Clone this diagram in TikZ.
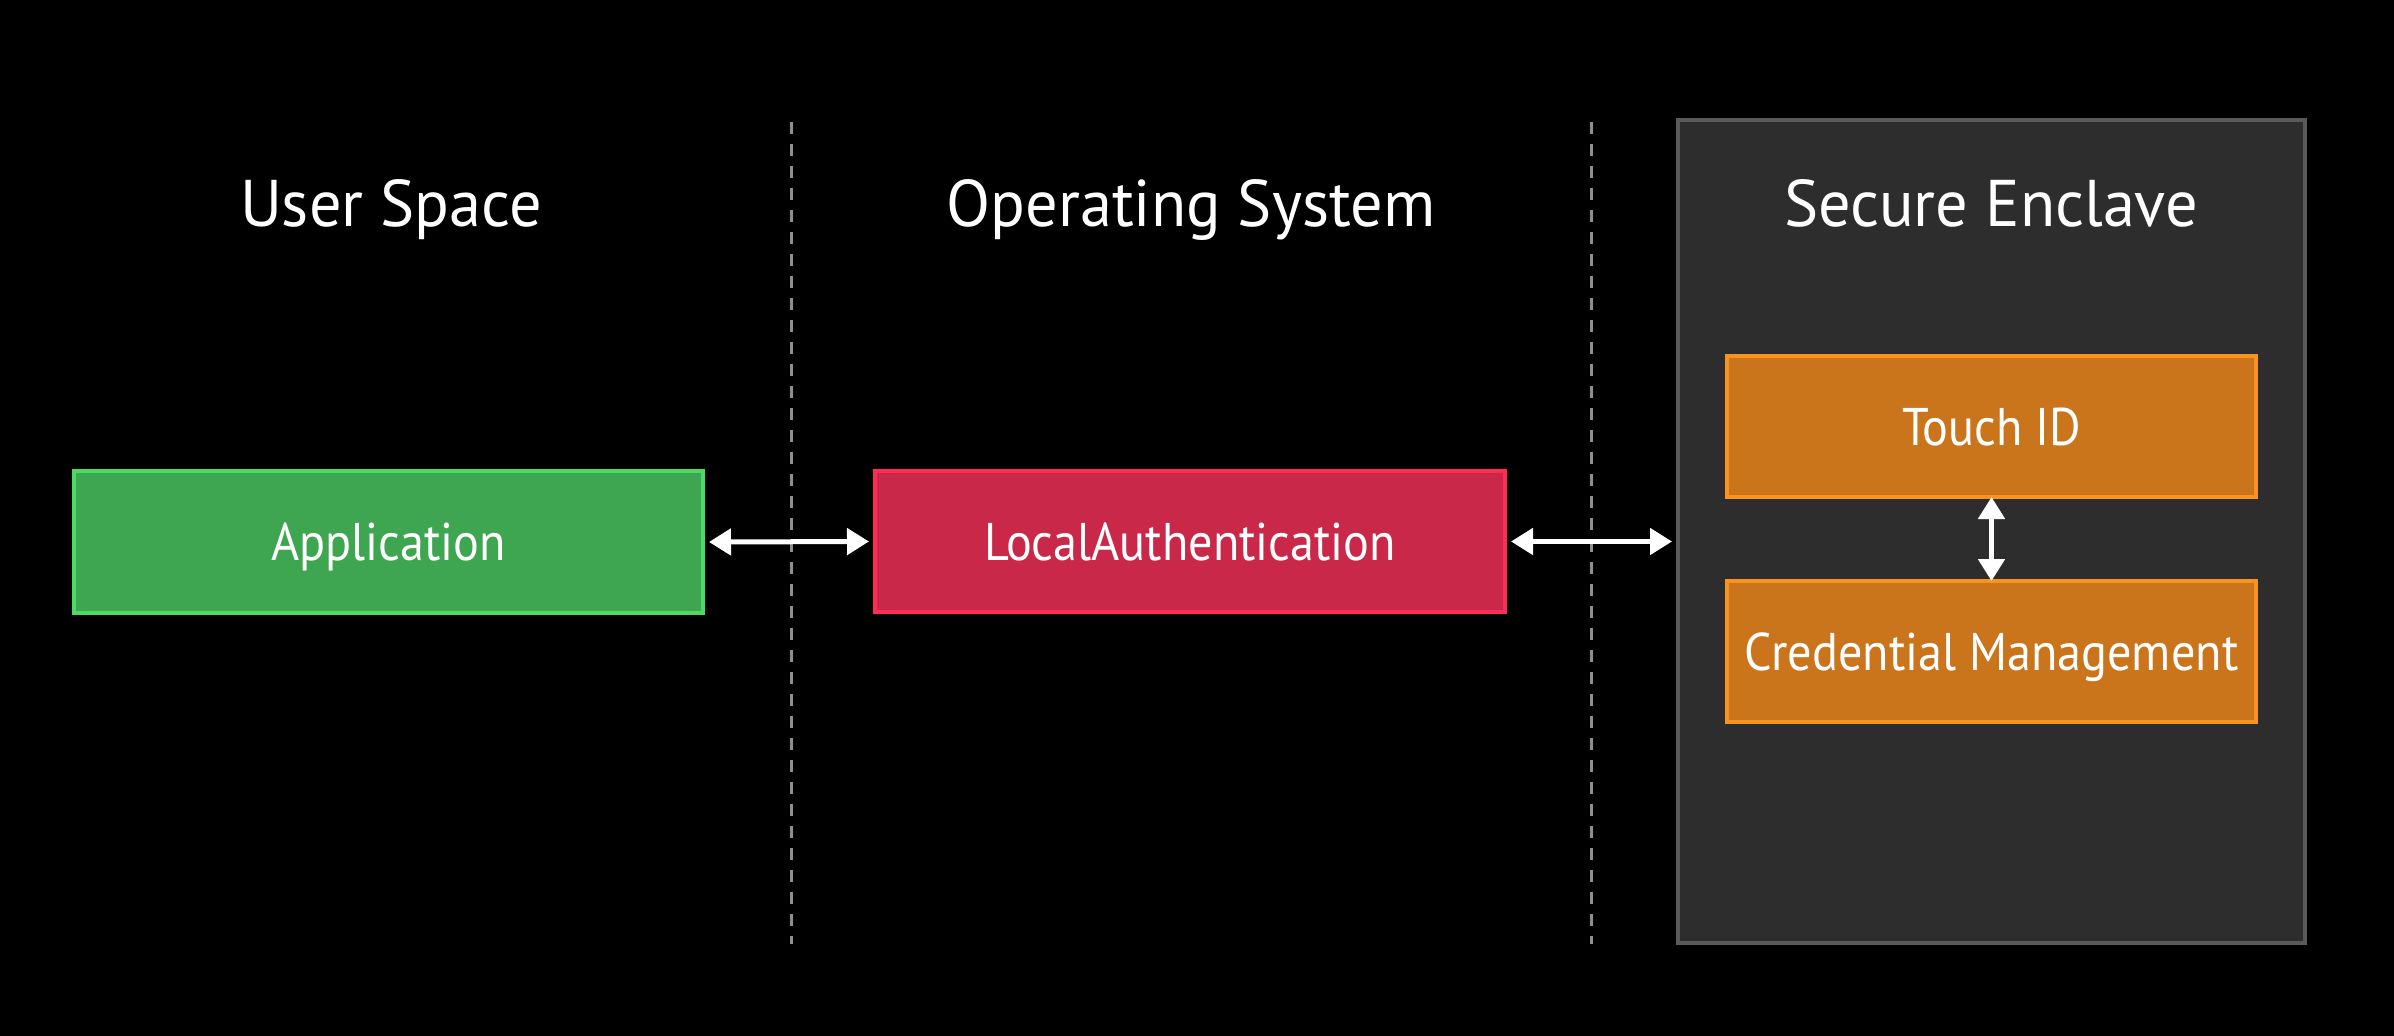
\documentclass[tikz,border=0pt]{standalone}
\usepackage{fontspec}
\setmainfont{PT Sans}
\newfontfamily\boxfont[FakeStretch=0.91]{PT Sans}
\newfontfamily\titlefont[FakeStretch=0.975]{PT Sans}
\usetikzlibrary{arrows.meta}
\definecolor{bgblack}{HTML}{000000}
\definecolor{appfill}{HTML}{3EA551}
\definecolor{appline}{HTML}{4CD964}
\definecolor{lafill}{HTML}{CA2848}
\definecolor{laline}{HTML}{FF2D55}
\definecolor{orfill}{HTML}{CA741C}
\definecolor{orline}{HTML}{F7931E}
\definecolor{panelfill}{HTML}{2D2D2D}
\definecolor{panelline}{HTML}{5A5A5A}
\definecolor{sepgray}{HTML}{8E8E8E}
\tikzset{
  boxbase/.style={rectangle, inner sep=0pt, line width=4pt, text=white,
    font=\boxfont\fontsize{53}{60}\selectfont, text height=37pt, text depth=0pt},
  appbox/.style={boxbase, draw=appline, fill=appfill},
  labox/.style={boxbase, draw=laline, fill=lafill},
  orbox/.style={boxbase, draw=orline, fill=orfill},
  panelbox/.style={rectangle, inner sep=0pt, draw=panelline, fill=panelfill, line width=4pt},
  titletext/.style={inner sep=0pt, text=white, font=\titlefont\fontsize{66}{75}\selectfont,
    text height=46pt, text depth=0pt},
  seprule/.style={draw=sepgray, line width=3pt, dash pattern=on 12pt off 10pt},
  biarrow/.style={draw=white, line width=5pt,
    {Triangle[length=22pt,width=26pt]}-{Triangle[length=22pt,width=26pt]}}
}
\begin{document}
\begin{tikzpicture}[x=1pt,y=-1pt]
\fill[bgblack] (0,0) rectangle (2394,1036);
\useasboundingbox (0,0) rectangle (2394,1036);

% separators
\coordinate (s1a) at (791,122); \coordinate (s1b) at (791,944);
\coordinate (s2a) at (1591,122); \coordinate (s2b) at (1591,944);
\draw[seprule] (s1a) -- (s1b);
\draw[seprule] (s2a) -- (s2b);

% secure enclave panel
\node[panelbox, minimum width=627pt, minimum height=823pt] (se) at (1991.5,531.5) {};

% titles
\node[titletext] (tus) at (391,203) {User Space};
\node[titletext] (tos) at (1191,203) {Operating System};
\node[titletext] (tse) at (1991,203) {Secure Enclave};

% boxes
\node[appbox, minimum width=629pt, minimum height=142pt] (app) at (388.5,542) {Application};
\node[labox, minimum width=630pt, minimum height=141pt] (la) at (1190,541.5) {LocalAuthentication};
\node[orbox, minimum width=529pt, minimum height=141pt] (tid) at (1991.5,426.5) {Touch ID};
\node[orbox, minimum width=529pt, minimum height=141pt] (cm) at (1991.5,651.5) {Credential Management};

% connectors
\draw[biarrow] ([xshift=4pt]app.east) -- ([xshift=-4pt]la.west);
\draw[biarrow] ([xshift=4pt]la.east) -- ([xshift=-4pt]se.west |- la.east);
\draw[biarrow] ([yshift=2pt]tid.south) -- ([yshift=-2pt]cm.north);
\end{tikzpicture}
\end{document}
